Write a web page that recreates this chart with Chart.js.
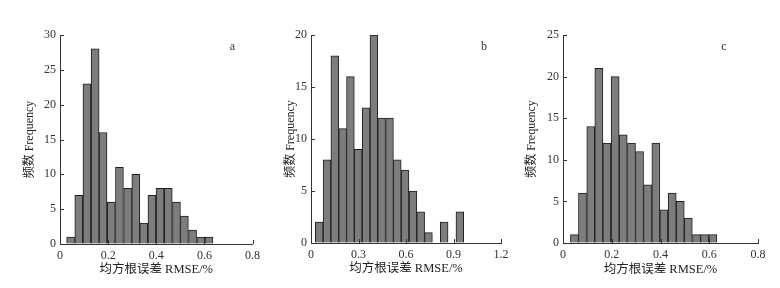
<!DOCTYPE html>
<html>
<head>
<meta charset="utf-8">
<script src="https://cdn.jsdelivr.net/npm/chart.js@4/dist/chart.umd.min.js"></script>
<style>
  html, body { margin: 0; padding: 0; background: #fff; }
  #wrap { position: relative; width: 780px; height: 288px; overflow: hidden; }
  .p { position: absolute; top: 0; height: 288px; }
</style>
</head>
<body>
<div id="wrap">
  <div class="p" style="left:0;width:265px"><canvas id="ca"></canvas></div>
  <div class="p" style="left:265px;width:250px"><canvas id="cb"></canvas></div>
  <div class="p" style="left:515px;width:265px"><canvas id="cc"></canvas></div>
</div>
<script>
// ---- data (bin centres of RMSE/% and frequencies) ----
const binsA = [0.044, 0.078, 0.112, 0.146, 0.179, 0.213, 0.247, 0.281, 0.315, 0.348, 0.382, 0.416, 0.450, 0.484, 0.517, 0.551, 0.585, 0.619];
const countsA = [1, 7, 23, 28, 16, 6, 11, 8, 10, 3, 7, 8, 8, 6, 4, 2, 1, 1];

const binsB = [0.052, 0.101, 0.150, 0.200, 0.249, 0.298, 0.348, 0.397, 0.446, 0.496, 0.545, 0.594, 0.644, 0.693, 0.742, 0.792, 0.841, 0.890, 0.940];
const countsB = [2, 8, 18, 11, 16, 9, 13, 20, 12, 12, 8, 7, 5, 3, 1, 0, 2, 0, 3];

const binsC = [0.047, 0.080, 0.114, 0.147, 0.180, 0.214, 0.247, 0.281, 0.314, 0.347, 0.381, 0.414, 0.448, 0.481, 0.514, 0.548, 0.581, 0.615];
const countsC = [1, 6, 14, 21, 12, 20, 13, 12, 11, 7, 12, 4, 6, 5, 3, 1, 1, 1];

const xTicksA = [0, 0.2, 0.4, 0.6, 0.8];
const xTicksB = [0, 0.3, 0.6, 0.9, 1.2];
const xTicksC = [0, 0.2, 0.4, 0.6, 0.8];
const yMaxA = 30, yMaxB = 20, yMaxC = 25;

const panelLetters = ['a', 'b', 'c'];
const xTitle = '均方根误差 RMSE/%';
const yTitle = '频数 Frequency';

// ---- drawing ----
const SERIF = '"Liberation Serif", "Times New Roman", "Noto Sans CJK SC", serif';
const TEXT = '#333';

const innerTicks = {
  id: 'innerTicks',
  afterDraw(chart, args, opts) {
    const ctx = chart.ctx;
    const {x, y} = chart.scales;
    const a = chart.chartArea;
    ctx.save();
    ctx.strokeStyle = '#333';
    ctx.lineWidth = 1;
    ctx.beginPath();
    x.ticks.forEach(t => {
      const px = Math.round(x.getPixelForValue(t.value)) + 0.5;
      ctx.moveTo(px, a.bottom);
      ctx.lineTo(px, a.bottom - 4);
    });
    y.ticks.forEach(t => {
      const py = Math.round(y.getPixelForValue(t.value)) + 0.5;
      ctx.moveTo(a.left, py);
      ctx.lineTo(a.left + 4, py);
    });
    ctx.stroke();
    // panel letter
    ctx.fillStyle = TEXT;
    ctx.font = '12px ' + SERIF;
    ctx.textAlign = 'center';
    ctx.textBaseline = 'middle';
    ctx.fillText(opts.letter, a.right + opts.lx, a.top + opts.ly);
    ctx.restore();
  }
};

function fmt(v) { return String(Number(v.toFixed(2))); }

function makeChart(id, bins, counts, xTicks, xMax, yMax, cfg) {
  new Chart(document.getElementById(id), {
    type: 'bar',
    data: {
      datasets: [{
        data: bins.map((b, i) => ({x: b, y: counts[i]})),
        backgroundColor: '#7d7d7d',
        borderColor: '#1e1e1e',
        borderWidth: 1,
        barPercentage: 1,
        categoryPercentage: 1
      }]
    },
    options: {
      responsive: true,
      maintainAspectRatio: false,
      animation: false,
      layout: { padding: { top: cfg.top, right: cfg.right, left: 0, bottom: 0 } },
      plugins: {
        legend: { display: false },
        tooltip: { enabled: false },
        innerTicks: { letter: cfg.letter, lx: cfg.lx, ly: cfg.ly }
      },
      scales: {
        x: {
          type: 'linear',
          offset: false,
          min: 0, max: xMax,
          afterBuildTicks: s => { s.ticks = xTicks.map(v => ({value: v})); },
          grid: { display: true, drawOnChartArea: false, drawTicks: false, offset: false },
          border: { display: true, color: '#333', width: 1 },
          ticks: { padding: 5, color: TEXT, font: { family: SERIF, size: 12 }, callback: v => fmt(v), maxRotation: 0 },
          title: { display: true, text: xTitle, color: '#222', font: { family: SERIF, size: 12.5 }, padding: { top: 0, bottom: cfg.xtPad } },
          afterFit: s => { s.height = cfg.xh; }
        },
        y: {
          min: 0, max: yMax,
          ticks: { stepSize: 5, padding: 4, color: TEXT, font: { family: SERIF, size: 12 } },
          grid: { display: true, drawOnChartArea: false, drawTicks: false },
          border: { display: true, color: '#333', width: 1 },
          title: { display: true, text: yTitle, color: '#222', font: { family: SERIF, size: 12 }, padding: { top: cfg.ytPad, bottom: 0 } },
          afterFit: s => { s.width = cfg.yw; }
        }
      }
    },
    plugins: [innerTicks]
  });
}

makeChart('ca', binsA, countsA, xTicksA, 0.8, yMaxA,
  { top: 35, right: 10, xh: 44, yw: 60, xtPad: 11, ytPad: 23, letter: panelLetters[0], lx: -20, ly: 12 });
makeChart('cb', binsB, countsB, xTicksB, 1.2, yMaxB,
  { top: 35, right: 14, xh: 45, yw: 46, xtPad: 12, ytPad: 18.5, letter: panelLetters[1], lx: -17, ly: 12 });
makeChart('cc', binsC, countsC, xTicksC, 0.8, yMaxC,
  { top: 35, right: 22, xh: 45, yw: 48, xtPad: 11, ytPad: 9.5, letter: panelLetters[2], lx: -34, ly: 12 });
</script>
</body>
</html>
